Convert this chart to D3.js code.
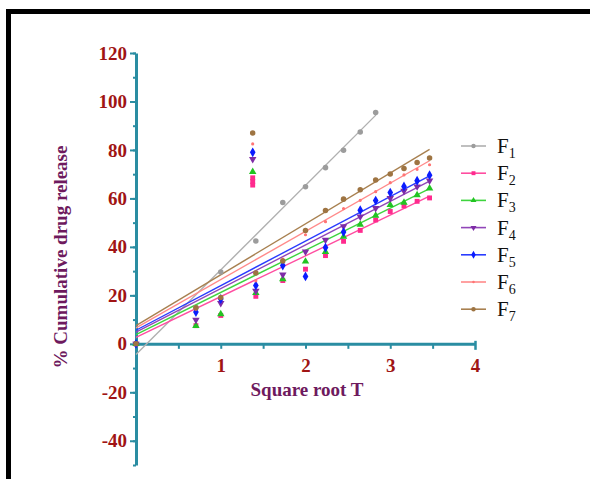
<!DOCTYPE html>
<html>
    <head>
        <meta charset="utf-8">
        <style>
            body { margin: 0; background: #fff; }
            svg { display: block; }
            .axis path, .axis line { stroke: #2a8da2; }
            .axis text {
                fill: #a01414;
                font-family: "Liberation Serif", "Times New Roman", serif;
                font-weight: bold;
            }
            .title {
                fill: #6e1a5e;
                font-family: "Liberation Serif", "Times New Roman", serif;
                font-weight: bold;
                font-size: 19px;
            }
            .legend text {
                fill: #111;
                font-family: "Liberation Serif", "Times New Roman", serif;
            }
        </style>
    </head>
    <body>
        <svg class="chart" width="590" height="479"></svg>
        <script src="https://d3js.org/d3.v7.min.js"></script>
        <script>

            // square root of time for each sampling point (1.377 = odd cluster near sqrt 2)
            var sqrtT = [0, 0.707, 1, 1.377, 1.414, 1.732, 2, 2.236, 2.449, 2.646, 2.828, 3, 3.162, 3.317, 3.464];

            var names = ["F1", "F2", "F3", "F4", "F5", "F6", "F7"];

            var f1 = [0, 15, 29.6, null, 42.4, 58.3, 64.8, 72.7, 79.9, 87.4, 95.4, null, null, null, null];
            var f2 = [0, 7.5, 11.7, 67, 19.6, 26.1, 30.8, 36.4, 42.3, 46.8, 51.1, 54.6, 56.9, 58.8, 60.2];
            var f3 = [0, 7.4, 12.3, 71, 21, 26.7, 34, 38, 44.2, 49.2, 52.9, 57.3, 58.3, 61.4, 64.2];
            var f4 = [0, 9.9, 16.8, 76.2, 21.8, 28.5, 38, 42.9, 48.5, 52.5, 56, 60.1, 63.1, 64.9, 67.3];
            var f5 = [0, 13.1, 18.5, 79, 24.1, 32.3, 27.8, 39.7, 46.1, 55.1, 59.1, 62.4, 64.9, 67.3, 69.6];
            var f6 = [0, 14.3, 18.9, 82.5, 26, 35, 45, 50.4, 55.8, 59.2, 62.8, 66.5, 69.7, 72, 73.9];
            var f7 = [0, 14.9, 19.1, 87, 29.2, 34.2, 46.8, 55, 59.7, 63.6, 67.6, 70.1, 72.3, 74.8, 76.7];

            // extra F2 replicates stacked in the cluster
            var f2ExtraX = [1.377, 1.377];
            var f2ExtraY = [65.5, 68.5];

            // fitted lines
            var fitIntercept = [-4.4, 2.7, 3.8, 4.8, 5.6, 6.6, 7.5];
            var fitSlope = [34.9, 16.8, 17.4, 18.0, 18.4, 19.9, 21.0];
            var fitEnd = [2.83, 3.464, 3.464, 3.464, 3.464, 3.464, 3.464];

            var xTicks = [0.5, 1, 1.5, 2, 2.5, 3, 3.5, 4];
            var yTicks = [-40, -20, 0, 20, 40, 60, 80, 100, 120];

            var allSeries = [f1, f2, f3, f4, f5, f6, f7];
            var colors = ["#9c9c9c", "#ff2a8e", "#22c422", "#7e2ca6", "#0a1cff", "#ff7474", "#9e7442"];
            var lineColors = ["#b0b0b0", "#ff4da0", "#3ed43e", "#9146b8", "#2a3cff", "#ff8a8a", "#a88050"];
            var shapes = [d3.symbolCircle, d3.symbolSquare, d3.symbolTriangle, "down", d3.symbolDiamond, d3.symbolCircle, d3.symbolCircle];
            var sizes = [24, 24, 24, 24, 28, 8, 24];

            var chart = d3.select('.chart');

            // frame (right and bottom edges fall outside the picture)
            chart.append('rect')
                .attr('x', 8.5).attr('y', 11.5)
                .attr('width', 600).attr('height', 500)
                .attr('fill', 'none')
                .attr('stroke', '#000')
                .attr('stroke-width', 5);

            var x = d3.scaleLinear().domain([0, 4]).range([136, 475]);
            var y = d3.scaleLinear().domain([-50, 120]).range([465, 53]);

            // y axis, minor ticks first
            chart.append('g')
                .attr('class', 'axis')
                .attr('transform', 'translate(136,0)')
                .call(d3.axisLeft(y).tickValues(d3.range(-50, 121, 10)).tickSize(3).tickSizeOuter(0).tickFormat(''))
                .call(function(g) {
                    g.select('.domain').attr('stroke-width', 3);
                    g.selectAll('.tick line').attr('stroke-width', 2);
                });

            chart.append('g')
                .attr('class', 'axis')
                .attr('transform', 'translate(136,0)')
                .call(d3.axisLeft(y).tickValues(yTicks).tickSize(6).tickSizeOuter(0).tickPadding(3)
                    .tickFormat(function(d) { return String(d); }))
                .call(function(g) {
                    g.select('.domain').remove();
                    g.selectAll('.tick line').attr('stroke-width', 2);
                    g.selectAll('text').style('font-size', '19px');
                });

            chart.append('g')
                .attr('class', 'axis')
                .attr('transform', 'translate(0,' + y(0) + ')')
                .call(d3.axisBottom(x).tickValues(xTicks).tickSize(5).tickSizeOuter(0).tickPadding(10)
                    .tickFormat(function(d) { return d % 1 === 0 ? String(d) : ''; }))
                .call(function(g) {
                    g.select('.domain').attr('stroke-width', 3);
                    g.selectAll('.tick line').attr('stroke-width', 2);
                    g.selectAll('.tick').filter(function(d) { return d === 4; })
                        .select('line').attr('y1', -3).attr('y2', 6).attr('stroke-width', 2.5);
                    g.selectAll('text').style('font-size', '19px');
                });

            chart.append('text')
                .attr('class', 'title')
                .attr('text-anchor', 'middle')
                .attr('x', 307)
                .attr('y', 396)
                .text('Square root T');

            chart.append('text')
                .attr('class', 'title')
                .attr('text-anchor', 'middle')
                .attr('transform', 'translate(67,257) rotate(-90)')
                .text('% Cumulative drug release');

            // fit lines
            var lineGen = d3.line()
                .x(function(d) { return x(d[0]); })
                .y(function(d) { return y(d[1]); });

            allSeries.forEach(function(s, i) {
                chart.append('path')
                    .datum([[0, fitIntercept[i]], [fitEnd[i], fitIntercept[i] + fitSlope[i] * fitEnd[i]]])
                    .attr('d', lineGen)
                    .attr('fill', 'none')
                    .attr('stroke', lineColors[i])
                    .attr('stroke-width', 1.4);
            });

            function symbolPath(i) {
                if (shapes[i] === 'down') return d3.symbol(d3.symbolTriangle, sizes[i])();
                return d3.symbol(shapes[i], sizes[i])();
            }

            function symbolRot(i) {
                return shapes[i] === 'down' ? ' rotate(180)' : '';
            }

            // points
            allSeries.forEach(function(s, i) {
                var pts = sqrtT.map(function(t, k) { return [t, s[k]]; })
                    .filter(function(p) { return p[1] !== null; });
                if (i === 1) {
                    f2ExtraX.forEach(function(t, k) { pts.push([t, f2ExtraY[k]]); });
                }
                chart.append('g').selectAll('path')
                    .data(pts)
                    .enter()
                    .append('path')
                    .attr('d', symbolPath(i))
                    .attr('transform', function(d) { return 'translate(' + x(d[0]) + ',' + y(d[1]) + ')' + symbolRot(i); })
                    .attr('fill', colors[i]);
            });

            // legend
            var legend = chart.append('g')
                .attr('class', 'legend');

            var rows = legend.selectAll('g')
                .data(names)
                .enter()
                .append('g')
                .attr('transform', function(d, i) { return 'translate(0,' + (146 + i * 27.2) + ')'; });

            rows.append('line')
                .attr('x1', 461).attr('x2', 486)
                .attr('stroke', function(d, i) { return lineColors[i]; })
                .attr('stroke-width', 1.6);

            rows.append('path')
                .attr('d', function(d, i) { return symbolPath(i); })
                .attr('transform', function(d, i) { return 'translate(473.5,0)' + symbolRot(i) + ' scale(0.8)'; })
                .attr('fill', function(d, i) { return colors[i]; });

            var labels = rows.append('text')
                .attr('x', 497)
                .attr('y', 7)
                .style('font-size', '21px');

            labels.append('tspan').text('F');
            labels.append('tspan')
                .attr('dy', 5)
                .style('font-size', '14px')
                .text(function(d) { return d.slice(1); });

        </script>
    </body>
</html>
